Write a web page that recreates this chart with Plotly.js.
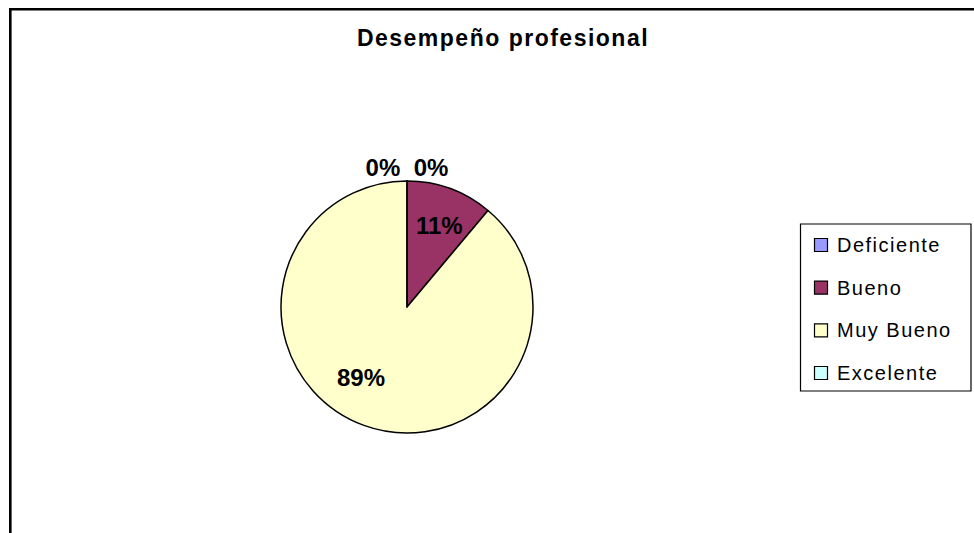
<!DOCTYPE html>
<html>
<head>
<meta charset="utf-8">
<script src="https://cdn.plot.ly/plotly-3.0.1.min.js"></script>
<style>
html, body { margin: 0; padding: 0; background: #ffffff; }
#chart { width: 974px; height: 533px; }
.gtitle { letter-spacing: 1.5px; }
</style>
</head>
<body>
<div id="chart"></div>
<script>
// ---- data ----
const titleText = "Desempeño profesional";
const categories = ["Deficiente", "Bueno", "Muy Bueno", "Excelente"];
const counts = [0, 1, 8, 0];
const colors = ["#9999FF", "#993366", "#FFFFCC", "#CCFFFF"];

const FONT = "Liberation Sans, Arial, Helvetica, sans-serif";
const W = 974, H = 533;
const px = x => x / W;
const py = y => 1 - y / H;

const total = counts.reduce((a, b) => a + b, 0);
const pctText = v => Math.round(100 * v / total) + "%";

// zero slices get their label outside (drawn by the pie); the others are
// labelled inside at the spots the original chart used
const textPositions = counts.map(v => (v === 0 ? "outside" : "none"));
const insideLabelSpots = { 1: [439, 225], 2: [361, 377.5] };

const pieTrace = {
  type: "pie",
  labels: categories,
  values: counts,
  sort: false,
  direction: "clockwise",
  rotation: 0,
  marker: { colors: colors, line: { color: "#000000", width: 1.5 } },
  textinfo: "percent",
  texttemplate: "%{percent:.0%}",
  textposition: textPositions,
  textfont: { family: FONT, size: 24, color: "#000000", weight: "bold" },
  outsidetextfont: { family: FONT, size: 24, color: "#000000", weight: "bold" },
  domain: { x: [px(281), px(533)], y: [py(433), py(181)] },
  showlegend: false,
  hoverinfo: "label+percent"
};

const annotations = [];
counts.forEach((v, i) => {
  const spot = insideLabelSpots[i];
  if (v > 0 && spot) {
    annotations.push({ xref: "paper", yref: "paper", x: px(spot[0]), y: py(spot[1]),
      xanchor: "center", yanchor: "middle", showarrow: false, text: pctText(v),
      font: { family: FONT, size: 24, color: "#000000", weight: "bold" } });
  }
});

// ---- legend built from categories / colors ----
const legTop = 245, legStep = 42.67;
const shapes = [
  // chart-area border (extends beyond the visible window on right/bottom)
  { type: "rect", xref: "paper", yref: "paper", x0: px(10.3), x1: 1.2, y0: -0.2, y1: py(9.2),
    line: { color: "#000000", width: 2.6 }, fillcolor: "rgba(0,0,0,0)", layer: "above" },
  // legend box
  { type: "rect", xref: "paper", yref: "paper", x0: px(800.5), x1: px(971), y0: py(391), y1: py(224),
    line: { color: "#000000", width: 1.2 }, fillcolor: "#ffffff", layer: "below" }
];
categories.forEach((c, i) => {
  const cy = legTop + i * legStep;
  shapes.push({ type: "rect", xref: "paper", yref: "paper",
    x0: px(814.5), x1: px(827.5), y0: py(cy + 6.5), y1: py(cy - 6.5),
    line: { color: "#000000", width: 1.2 }, fillcolor: colors[i], layer: "above" });
  annotations.push({ xref: "paper", yref: "paper", x: px(835), y: py(cy),
    xanchor: "left", yanchor: "middle", showarrow: false,
    text: '<span style="letter-spacing:1.5px">' + c + '</span>',
    font: { family: FONT, size: 20, color: "#000000" } });
});

const layout = {
  width: W, height: H,
  margin: { l: 0, r: 0, t: 0, b: 0 },
  paper_bgcolor: "#ffffff",
  plot_bgcolor: "#ffffff",
  showlegend: false,
  title: { text: titleText, x: px(503), xanchor: "center", y: py(38), yanchor: "middle",
    yref: "container", xref: "container",
    font: { family: FONT, size: 23, color: "#000000", weight: "bold" } },
  shapes: shapes,
  annotations: annotations
};

Plotly.newPlot("chart", [pieTrace], layout, { displayModeBar: false, staticPlot: true });
</script>
</body>
</html>
